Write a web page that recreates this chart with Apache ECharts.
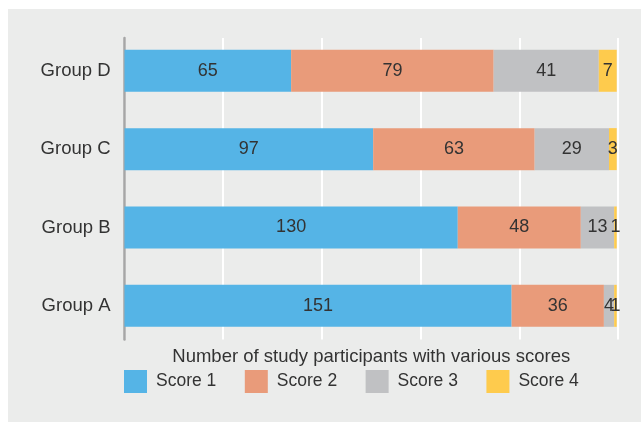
<!DOCTYPE html>
<html>
<head>
<meta charset="utf-8">
<script src="https://cdn.jsdelivr.net/npm/echarts@6/dist/echarts.min.js"></script>
<style>
	html, body { margin: 0; padding: 0; background: #fff; }
	#chart { width: 641px; height: 422px; }
</style>
</head>
<body>
<div id="chart"></div>
<script>
var groups = ['Group A', 'Group B', 'Group C', 'Group D'];
var scoreNames = ['Score 1', 'Score 2', 'Score 3', 'Score 4'];
var score1 = [151, 130, 97, 65];
var score2 = [36, 48, 63, 79];
var score3 = [4, 13, 29, 41];
var score4 = [1, 1, 3, 7];
var colors = ['#55b4e6', '#e99b7a', '#c0c1c3', '#fecb4d'];

var font = 'Liberation Sans, Arial, sans-serif';
var chartDom = document.getElementById('chart');
var myChart = echarts.init(chartDom, null, { renderer: 'canvas' });

var values = [score1, score2, score3, score4];
var series = [];
for (var i = 0; i < values.length; i++) {
	series.push({
		name: scoreNames[i],
		type: 'bar',
		stack: 'total',
		xAxisIndex: 0,
		yAxisIndex: 0,
		barWidth: 42,
		data: values[i],
		itemStyle: { color: colors[i] },
		label: {
			show: true,
			position: 'inside',
			color: '#333',
			fontSize: 18,
			fontFamily: font
		}
	});
}

var option = {
	animation: false,
	color: colors,
	graphic: {
		z: -10,
		elements: [{
			type: 'rect',
			z: -10,
			shape: { x: 8, y: 9, width: 633, height: 413 },
			style: { fill: '#ebeceb' }
		}]
	},
	legend: {
		data: scoreNames,
		left: 124,
		top: 370,
		padding: 0,
		itemWidth: 23,
		itemHeight: 23,
		itemGap: 28.5,
		icon: 'rect',
		textStyle: { color: '#333', fontSize: 17.5, fontFamily: font, padding: [0, 0, 0, 4] }
	},
	grid: [
		// bars
		{ left: 124.5, right: 23, top: 31.6, bottom: 77 },
		// gridlines and axis line
		{ left: 124.5, right: 23, top: 38, bottom: 82.5 }
	],
	xAxis: [{
		type: 'value',
		gridIndex: 0,
		min: 0,
		max: 192.5,
		show: false
	}, {
		type: 'value',
		gridIndex: 1,
		min: 0,
		max: 192.5,
		interval: 38.5,
		name: 'Number of study participants with various scores',
		nameLocation: 'middle',
		nameGap: 8,
		nameTextStyle: { color: '#333', fontSize: 18.5, fontFamily: font },
		axisLine: { show: false },
		axisTick: { show: false },
		axisLabel: { show: false },
		splitLine: { show: true, lineStyle: { color: '#ffffff', width: 2 } }
	}],
	yAxis: [{
		type: 'category',
		gridIndex: 0,
		data: groups,
		axisLine: { show: false },
		axisTick: { show: false },
		axisLabel: { color: '#333', fontSize: 18.5, fontFamily: font, margin: 14 }
	}, {
		type: 'category',
		gridIndex: 1,
		data: groups,
		axisLine: { show: true, lineStyle: { color: '#a6a6a6', width: 2.5 } },
		axisTick: { show: false },
		axisLabel: { show: false },
		splitLine: { show: false }
	}],
	series: series
};

myChart.setOption(option);
</script>
</body>
</html>
